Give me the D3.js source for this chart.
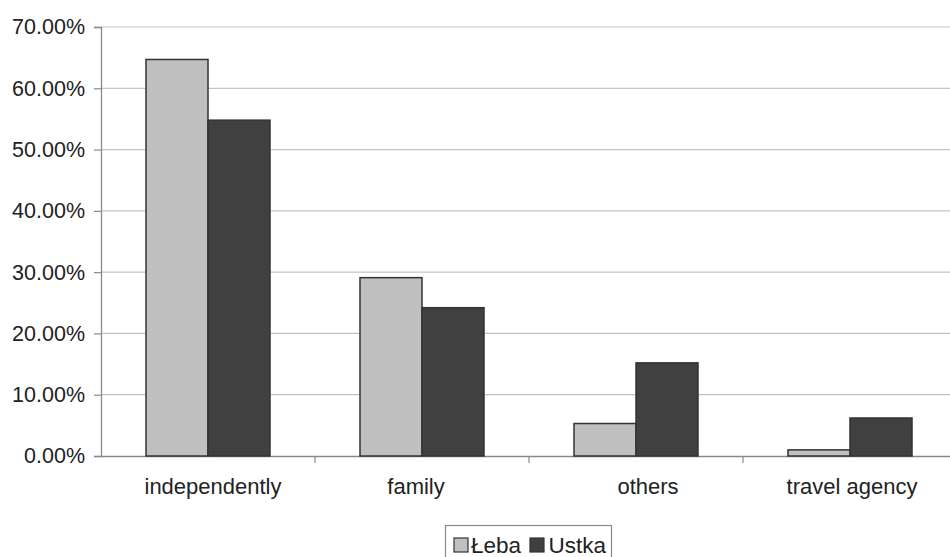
<!DOCTYPE html>
<html>
<head>
<meta charset="utf-8">
<script src="https://cdn.jsdelivr.net/npm/d3@7/dist/d3.min.js"></script>
<style>
  html, body { margin: 0; padding: 0; background: #fff; }
  svg { display: block; font-family: "Liberation Sans", Arial, sans-serif; }
</style>
</head>
<body>
<svg id="chart" width="950" height="557"></svg>
<script>
// Who organised the trip, share of respondents per town
const categories = ["independently", "family", "others", "travel agency"];
const seriesNames = ["Łeba", "Ustka"];
const lebaValues = [64.7, 29.1, 5.3, 1.0];
const ustkaValues = [54.8, 24.2, 15.2, 6.2];
const yTicks = [0, 10, 20, 30, 40, 50, 60, 70];
const seriesColors = ["#c0c0c0", "#404040"];

const svg = d3.select("#chart");
const margin = { left: 101, right: -7, top: 27, bottom: 101 };
const W = 950, H = 557;
const x0 = margin.left, x1 = W - margin.right;
const yTop = margin.top, yBot = H - margin.bottom;

const x = d3.scaleBand().domain(categories).range([x0, x1]).paddingInner(0).paddingOuter(0);
const xs = d3.scaleBand().domain(seriesNames).range([0, 124]);
const y = d3.scaleLinear().domain([0, 70]).range([yBot, yTop]);

// horizontal gridlines
svg.append("g").selectAll("line").data(yTicks.filter(d => d > 0)).join("line")
  .attr("x1", x0).attr("x2", x1)
  .attr("y1", d => y(d)).attr("y2", d => y(d))
  .attr("stroke", "#c4c4c4").attr("stroke-width", 1.2);

// y axis
const yAxis = d3.axisLeft(y).tickValues(yTicks).tickSize(7).tickPadding(9)
  .tickFormat(d => d3.format(".2f")(d) + "%");
const gy = svg.append("g").attr("transform", `translate(${x0},0)`).call(yAxis);
gy.select(".domain").attr("stroke", "#8a8a8a").attr("stroke-width", 1.3);
gy.selectAll(".tick line").attr("stroke", "#8a8a8a").attr("stroke-width", 1.2);
gy.selectAll(".tick text").attr("font-size", "21.5px").attr("fill", "#222")
  .attr("font-family", "Liberation Sans, Arial, sans-serif");

// x axis; labels sit slightly off the band centres, as in the source layout
const labelShift = [5, -6, 12, 2];
const xAxis = d3.axisBottom(x).tickSize(0).tickPadding(22);
const gx = svg.append("g").attr("transform", `translate(0,${yBot})`).call(xAxis);
gx.select(".domain").attr("stroke", "#8a8a8a").attr("stroke-width", 1.3);
gx.selectAll(".tick text").attr("font-size", "22px").attr("fill", "#222")
  .attr("font-family", "Liberation Sans, Arial, sans-serif")
  .attr("dx", (d, i) => labelShift[i]);
// category separators
gx.append("g").selectAll("line").data(categories.slice(1)).join("line")
  .attr("x1", d => x(d)).attr("x2", d => x(d))
  .attr("y1", 0).attr("y2", 7)
  .attr("stroke", "#8a8a8a").attr("stroke-width", 1.2);

// bars
const rows = categories.map((c, i) => ({ cat: c, vals: [lebaValues[i], ustkaValues[i]] }));
const groups = svg.append("g").selectAll("g").data(rows).join("g")
  .attr("transform", d => `translate(${x(d.cat) + (x.bandwidth() - 124) / 2},0)`);
groups.selectAll("rect").data(d => d.vals.map((v, j) => ({ v, s: seriesNames[j], j }))).join("rect")
  .attr("x", d => xs(d.s))
  .attr("width", xs.bandwidth())
  .attr("y", d => y(d.v))
  .attr("height", d => yBot - y(d.v))
  .attr("fill", d => seriesColors[d.j])
  .attr("stroke", "#333").attr("stroke-width", 1.5);

// legend
const lg = svg.append("g");
lg.append("rect").attr("x", 445.5).attr("y", 525.5).attr("width", 166).attr("height", 40)
  .attr("fill", "#fff").attr("stroke", "#8a8a8a").attr("stroke-width", 1.2);
const legendItems = [
  { name: seriesNames[0], color: seriesColors[0], sx: 454, tx: 471 },
  { name: seriesNames[1], color: seriesColors[1], sx: 530, tx: 548.5 }
];
legendItems.forEach(it => {
  lg.append("rect").attr("x", it.sx).attr("y", 538).attr("width", 14).attr("height", 14)
    .attr("fill", it.color).attr("stroke", "#333").attr("stroke-width", 1.2);
  lg.append("text").attr("x", it.tx).attr("y", 553).attr("font-size", "22.5px")
    .attr("fill", "#222").text(it.name);
});
</script>
</body>
</html>
